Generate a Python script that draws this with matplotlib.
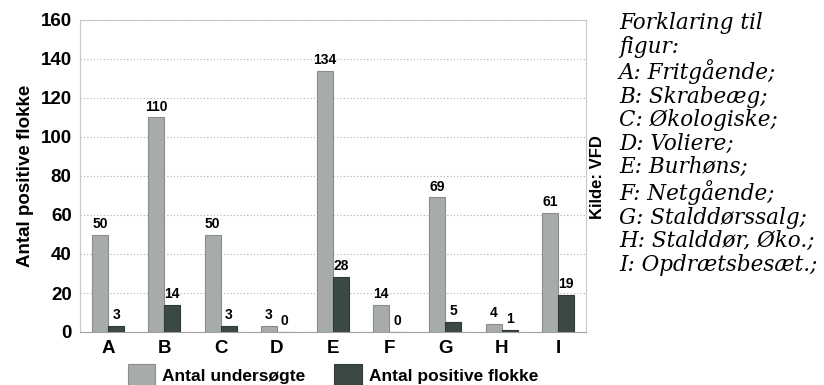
import matplotlib.pyplot as plt
import numpy as np

plt.rcParams['font.family'] = ['Liberation Sans', 'DejaVu Sans']

categories = ['A', 'B', 'C', 'D', 'E', 'F', 'G', 'H', 'I']
undersoegte = [50, 110, 50, 3, 134, 14, 69, 4, 61]
positive = [3, 14, 3, 0, 28, 0, 5, 1, 19]
forklaring = ['Forklaring til', 'figur:', 'A: Fritgående;', 'B: Skrabeæg;',
              'C: Økologiske;', 'D: Voliere;', 'E: Burhøns;', 'F: Netgående;',
              'G: Stalddørssalg;', 'H: Stalddør, Øko.;', 'I: Opdrætsbesæt.;']

light = '#a8aca8'
dark = '#3b4943'

fig = plt.figure(figsize=(8.24, 3.85), dpi=100)
ax = fig.add_axes([80 / 824, 1 - 332 / 385, 506 / 824, 312 / 385])

x = np.arange(len(categories))
w = 0.285
b1 = ax.bar(x - w / 2, undersoegte, w, color=light, edgecolor='#8a8e8a', linewidth=0.8,
            label='Antal undersøgte')
b2 = ax.bar(x + w / 2, positive, w, color=dark, edgecolor='#2e3a35', linewidth=0.8,
            label='Antal positive flokke')

for bars, vals in ((b1, undersoegte), (b2, positive)):
    for r, v in zip(bars, vals):
        ax.text(r.get_x() + r.get_width() / 2, v + 2, str(v), ha='center', va='bottom',
                fontsize=10, fontweight='bold')

ax.set_xlim(-0.5, len(categories) - 0.5)
ax.set_ylim(0, 160)
ax.set_yticks(range(0, 161, 20))
ax.set_xticks(x)
ax.set_xticklabels(categories)
ax.tick_params(axis='both', labelsize=13.5, length=0, pad=6)
for lbl in ax.get_xticklabels() + ax.get_yticklabels():
    lbl.set_fontweight('bold')
ax.yaxis.grid(True, linestyle=(0, (1, 2)), color='#b0b0b0', linewidth=0.8)
ax.set_axisbelow(True)
for s in ax.spines.values():
    s.set_color('#c8c8c8')
ax.spines['bottom'].set_color('#a0a0a0')

ax.set_ylabel('Antal positive flokke', fontsize=13.5, fontweight='bold', labelpad=5)

fig.legend(handles=[b1, b2], loc='center', bbox_to_anchor=(333 / 824, 1 - 375 / 385),
           ncol=2, frameon=False, prop={'size': 12.5, 'weight': 'bold'},
           handlelength=1.6, handleheight=1.5, columnspacing=1.65, handletextpad=0.4,
           borderpad=0, borderaxespad=0)

fig.text(597 / 824, 1 - 177 / 385, 'Kilde: VFD', rotation=90, ha='center', va='center',
         fontsize=12, fontweight='bold')

fig.text(619 / 824, 1 - 12 / 385, '\n'.join(forklaring), ha='left', va='top',
         family='DejaVu Serif', style='italic', fontsize=15.5, linespacing=1.09)

fig.savefig('out.png', dpi=100)
